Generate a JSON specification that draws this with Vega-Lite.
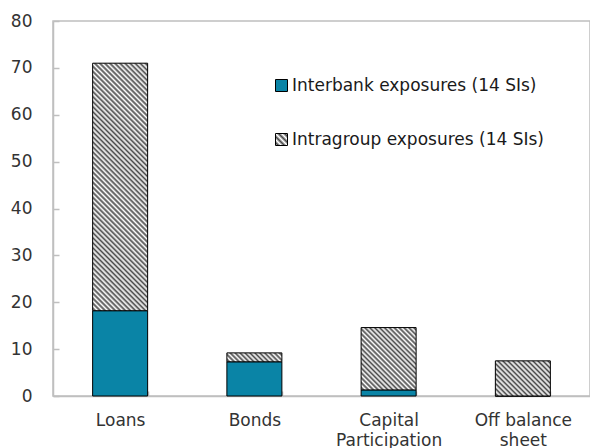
{
 "$schema": "https://vega.github.io/schema/vega-lite/v6.json",
 "width": 537,
 "height": 375,
 "autosize": {"type": "none"},
 "padding": {"left": 53, "top": 21, "right": 0, "bottom": 52},
 "background": "white",
 "config": {"view": {"stroke": "#bfbfbf", "strokeWidth": 1.5}, "font": "DejaVu Sans"},
 "data": {"values": [
  {"category": "Loans", "series": "Interbank exposures (14 SIs)", "value": 18.2},
  {"category": "Loans", "series": "Intragroup exposures (14 SIs)", "value": 52.8},
  {"category": "Bonds", "series": "Interbank exposures (14 SIs)", "value": 7.3},
  {"category": "Bonds", "series": "Intragroup exposures (14 SIs)", "value": 1.9},
  {"category": "Capital Participation", "series": "Interbank exposures (14 SIs)", "value": 1.3},
  {"category": "Capital Participation", "series": "Intragroup exposures (14 SIs)", "value": 13.3},
  {"category": "Off balance sheet", "series": "Interbank exposures (14 SIs)", "value": 0},
  {"category": "Off balance sheet", "series": "Intragroup exposures (14 SIs)", "value": 7.5}
 ]},
 "mark": {"type": "bar", "stroke": "#000", "strokeWidth": 1},
 "encoding": {
  "x": {
   "field": "category", "type": "nominal",
   "sort": ["Loans", "Bonds", "Capital Participation", "Off balance sheet"],
   "scale": {"paddingInner": 0.5903, "paddingOuter": 0.2952},
   "axis": {
    "title": null, "labelAngle": 0, "domainColor": "#bfbfbf", "domainWidth": 1.5,
    "tickColor": "#bfbfbf", "tickWidth": 1.5, "tickSize": -5, "tickBand": "extent",
    "labelFont": "DejaVu Sans", "labelFontSize": 17, "labelColor": "#333", "labelPadding": 21,
    "labelLineHeight": 20,
    "labelExpr": "datum.value === 'Capital Participation' ? ['Capital', 'Participation'] : datum.value === 'Off balance sheet' ? ['Off balance', 'sheet'] : datum.value"
   }
  },
  "y": {
   "field": "value", "type": "quantitative", "stack": "zero",
   "scale": {"domain": [0, 80], "nice": false},
   "axis": {
    "title": null, "grid": false, "values": [0, 10, 20, 30, 40, 50, 60, 70, 80],
    "domainColor": "#bfbfbf", "domainWidth": 1.5, "tickColor": "#bfbfbf", "tickWidth": 1.5,
    "tickSize": -6, "labelPadding": 27, "labelFont": "DejaVu Sans", "labelFontSize": 17, "labelColor": "#333"
   }
  },
  "order": {"field": "series", "sort": "ascending"},
  "fill": {
   "field": "series", "type": "nominal",
   "scale": {"domain": ["Interbank exposures (14 SIs)", "Intragroup exposures (14 SIs)"], "range": ["#0a84a6", {"expr": "{gradient: 'linear', x1: 0, y1: 1, x2: 1, y2: 0, stops: [{offset: 0, color: '#fff'}, {offset: 0.125, color: '#4a4a4a'}, {offset: 0.25, color: '#fff'}, {offset: 0.375, color: '#4a4a4a'}, {offset: 0.5, color: '#fff'}, {offset: 0.625, color: '#4a4a4a'}, {offset: 0.75, color: '#fff'}, {offset: 0.875, color: '#4a4a4a'}, {offset: 1, color: '#fff'}]}"}]},
   "legend": {
    "title": null, "orient": "none", "legendX": 220, "legendY": 56, "direction": "vertical",
    "symbolType": "square", "symbolSize": 144, "symbolStrokeColor": "#000", "symbolStrokeWidth": 1,
    "symbolOpacity": 1,
    "labelFont": "DejaVu Sans", "labelFontSize": 17, "labelColor": "#1a1a1a", "labelOffset": 2,
    "rowPadding": 36, "labelLimit": 400,
    "encode": {"symbols": {"update": {
     "stroke": {"value": "#000"},
     "strokeWidth": {"value": 1}
    }}}
   },
   "condition": [
    {"test": "datum.series === 'Intragroup exposures (14 SIs)' && datum.category === 'Loans'", "value": {"gradient": "linear", "x1": 0, "y1": 1, "x2": 0.2588, "y2": -0.1647, "stops": [
     {"offset": 0, "color": "#fff"}, {"offset": 0.0083, "color": "#4a4a4a"}, {"offset": 0.0167, "color": "#fff"}, {"offset": 0.025, "color": "#4a4a4a"}, {"offset": 0.0333, "color": "#fff"}, {"offset": 0.0417, "color": "#4a4a4a"}, {"offset": 0.05, "color": "#fff"}, {"offset": 0.0583, "color": "#4a4a4a"}, {"offset": 0.0667, "color": "#fff"}, {"offset": 0.075, "color": "#4a4a4a"}, {"offset": 0.0833, "color": "#fff"}, {"offset": 0.0917, "color": "#4a4a4a"},
     {"offset": 0.1, "color": "#fff"}, {"offset": 0.1083, "color": "#4a4a4a"}, {"offset": 0.1167, "color": "#fff"}, {"offset": 0.125, "color": "#4a4a4a"}, {"offset": 0.1333, "color": "#fff"}, {"offset": 0.1417, "color": "#4a4a4a"}, {"offset": 0.15, "color": "#fff"}, {"offset": 0.1583, "color": "#4a4a4a"}, {"offset": 0.1667, "color": "#fff"}, {"offset": 0.175, "color": "#4a4a4a"}, {"offset": 0.1833, "color": "#fff"}, {"offset": 0.1917, "color": "#4a4a4a"},
     {"offset": 0.2, "color": "#fff"}, {"offset": 0.2083, "color": "#4a4a4a"}, {"offset": 0.2167, "color": "#fff"}, {"offset": 0.225, "color": "#4a4a4a"}, {"offset": 0.2333, "color": "#fff"}, {"offset": 0.2417, "color": "#4a4a4a"}, {"offset": 0.25, "color": "#fff"}, {"offset": 0.2583, "color": "#4a4a4a"}, {"offset": 0.2667, "color": "#fff"}, {"offset": 0.275, "color": "#4a4a4a"}, {"offset": 0.2833, "color": "#fff"}, {"offset": 0.2917, "color": "#4a4a4a"},
     {"offset": 0.3, "color": "#fff"}, {"offset": 0.3083, "color": "#4a4a4a"}, {"offset": 0.3167, "color": "#fff"}, {"offset": 0.325, "color": "#4a4a4a"}, {"offset": 0.3333, "color": "#fff"}, {"offset": 0.3417, "color": "#4a4a4a"}, {"offset": 0.35, "color": "#fff"}, {"offset": 0.3583, "color": "#4a4a4a"}, {"offset": 0.3667, "color": "#fff"}, {"offset": 0.375, "color": "#4a4a4a"}, {"offset": 0.3833, "color": "#fff"}, {"offset": 0.3917, "color": "#4a4a4a"},
     {"offset": 0.4, "color": "#fff"}, {"offset": 0.4083, "color": "#4a4a4a"}, {"offset": 0.4167, "color": "#fff"}, {"offset": 0.425, "color": "#4a4a4a"}, {"offset": 0.4333, "color": "#fff"}, {"offset": 0.4417, "color": "#4a4a4a"}, {"offset": 0.45, "color": "#fff"}, {"offset": 0.4583, "color": "#4a4a4a"}, {"offset": 0.4667, "color": "#fff"}, {"offset": 0.475, "color": "#4a4a4a"}, {"offset": 0.4833, "color": "#fff"}, {"offset": 0.4917, "color": "#4a4a4a"},
     {"offset": 0.5, "color": "#fff"}, {"offset": 0.5083, "color": "#4a4a4a"}, {"offset": 0.5167, "color": "#fff"}, {"offset": 0.525, "color": "#4a4a4a"}, {"offset": 0.5333, "color": "#fff"}, {"offset": 0.5417, "color": "#4a4a4a"}, {"offset": 0.55, "color": "#fff"}, {"offset": 0.5583, "color": "#4a4a4a"}, {"offset": 0.5667, "color": "#fff"}, {"offset": 0.575, "color": "#4a4a4a"}, {"offset": 0.5833, "color": "#fff"}, {"offset": 0.5917, "color": "#4a4a4a"},
     {"offset": 0.6, "color": "#fff"}, {"offset": 0.6083, "color": "#4a4a4a"}, {"offset": 0.6167, "color": "#fff"}, {"offset": 0.625, "color": "#4a4a4a"}, {"offset": 0.6333, "color": "#fff"}, {"offset": 0.6417, "color": "#4a4a4a"}, {"offset": 0.65, "color": "#fff"}, {"offset": 0.6583, "color": "#4a4a4a"}, {"offset": 0.6667, "color": "#fff"}, {"offset": 0.675, "color": "#4a4a4a"}, {"offset": 0.6833, "color": "#fff"}, {"offset": 0.6917, "color": "#4a4a4a"},
     {"offset": 0.7, "color": "#fff"}, {"offset": 0.7083, "color": "#4a4a4a"}, {"offset": 0.7167, "color": "#fff"}, {"offset": 0.725, "color": "#4a4a4a"}, {"offset": 0.7333, "color": "#fff"}, {"offset": 0.7417, "color": "#4a4a4a"}, {"offset": 0.75, "color": "#fff"}, {"offset": 0.7583, "color": "#4a4a4a"}, {"offset": 0.7667, "color": "#fff"}, {"offset": 0.775, "color": "#4a4a4a"}, {"offset": 0.7833, "color": "#fff"}, {"offset": 0.7917, "color": "#4a4a4a"},
     {"offset": 0.8, "color": "#fff"}, {"offset": 0.8083, "color": "#4a4a4a"}, {"offset": 0.8167, "color": "#fff"}, {"offset": 0.825, "color": "#4a4a4a"}, {"offset": 0.8333, "color": "#fff"}, {"offset": 0.8417, "color": "#4a4a4a"}, {"offset": 0.85, "color": "#fff"}, {"offset": 0.8583, "color": "#4a4a4a"}, {"offset": 0.8667, "color": "#fff"}, {"offset": 0.875, "color": "#4a4a4a"}, {"offset": 0.8833, "color": "#fff"}, {"offset": 0.8917, "color": "#4a4a4a"},
     {"offset": 0.9, "color": "#fff"}, {"offset": 0.9083, "color": "#4a4a4a"}, {"offset": 0.9167, "color": "#fff"}, {"offset": 0.925, "color": "#4a4a4a"}, {"offset": 0.9333, "color": "#fff"}, {"offset": 0.9417, "color": "#4a4a4a"}, {"offset": 0.95, "color": "#fff"}, {"offset": 0.9583, "color": "#4a4a4a"}, {"offset": 0.9667, "color": "#fff"}, {"offset": 0.975, "color": "#4a4a4a"}, {"offset": 0.9833, "color": "#fff"}, {"offset": 0.9917, "color": "#4a4a4a"},
     {"offset": 1, "color": "#fff"}]}},
    {"test": "datum.series === 'Intragroup exposures (14 SIs)' && datum.category === 'Bonds'", "value": {"gradient": "linear", "x1": 0, "y1": 1, "x2": 1.1322, "y2": 0.8168, "stops": [
     {"offset": 0, "color": "#fff"}, {"offset": 0.0385, "color": "#4a4a4a"}, {"offset": 0.0769, "color": "#fff"}, {"offset": 0.1154, "color": "#4a4a4a"}, {"offset": 0.1538, "color": "#fff"}, {"offset": 0.1923, "color": "#4a4a4a"}, {"offset": 0.2308, "color": "#fff"}, {"offset": 0.2692, "color": "#4a4a4a"}, {"offset": 0.3077, "color": "#fff"}, {"offset": 0.3462, "color": "#4a4a4a"}, {"offset": 0.3846, "color": "#fff"}, {"offset": 0.4231, "color": "#4a4a4a"}, {"offset": 0.4615, "color": "#fff"}, {"offset": 0.5, "color": "#4a4a4a"}, {"offset": 0.5385, "color": "#fff"}, {"offset": 0.5769, "color": "#4a4a4a"}, {"offset": 0.6154, "color": "#fff"}, {"offset": 0.6538, "color": "#4a4a4a"}, {"offset": 0.6923, "color": "#fff"}, {"offset": 0.7308, "color": "#4a4a4a"}, {"offset": 0.7692, "color": "#fff"}, {"offset": 0.8077, "color": "#4a4a4a"}, {"offset": 0.8462, "color": "#fff"}, {"offset": 0.8846, "color": "#4a4a4a"}, {"offset": 0.9231, "color": "#fff"}, {"offset": 0.9615, "color": "#4a4a4a"}, {"offset": 1, "color": "#fff"}]}},
    {"test": "datum.series === 'Intragroup exposures (14 SIs)' && datum.category === 'Capital Participation'", "value": {"gradient": "linear", "x1": 0, "y1": 1, "x2": 0.9342, "y2": -0.0582, "stops": [
     {"offset": 0, "color": "#fff"}, {"offset": 0.0208, "color": "#4a4a4a"}, {"offset": 0.0417, "color": "#fff"}, {"offset": 0.0625, "color": "#4a4a4a"}, {"offset": 0.0833, "color": "#fff"}, {"offset": 0.1042, "color": "#4a4a4a"}, {"offset": 0.125, "color": "#fff"}, {"offset": 0.1458, "color": "#4a4a4a"}, {"offset": 0.1667, "color": "#fff"}, {"offset": 0.1875, "color": "#4a4a4a"}, {"offset": 0.2083, "color": "#fff"}, {"offset": 0.2292, "color": "#4a4a4a"},
     {"offset": 0.25, "color": "#fff"}, {"offset": 0.2708, "color": "#4a4a4a"}, {"offset": 0.2917, "color": "#fff"}, {"offset": 0.3125, "color": "#4a4a4a"}, {"offset": 0.3333, "color": "#fff"}, {"offset": 0.3542, "color": "#4a4a4a"}, {"offset": 0.375, "color": "#fff"}, {"offset": 0.3958, "color": "#4a4a4a"}, {"offset": 0.4167, "color": "#fff"}, {"offset": 0.4375, "color": "#4a4a4a"}, {"offset": 0.4583, "color": "#fff"}, {"offset": 0.4792, "color": "#4a4a4a"},
     {"offset": 0.5, "color": "#fff"}, {"offset": 0.5208, "color": "#4a4a4a"}, {"offset": 0.5417, "color": "#fff"}, {"offset": 0.5625, "color": "#4a4a4a"}, {"offset": 0.5833, "color": "#fff"}, {"offset": 0.6042, "color": "#4a4a4a"}, {"offset": 0.625, "color": "#fff"}, {"offset": 0.6458, "color": "#4a4a4a"}, {"offset": 0.6667, "color": "#fff"}, {"offset": 0.6875, "color": "#4a4a4a"}, {"offset": 0.7083, "color": "#fff"}, {"offset": 0.7292, "color": "#4a4a4a"},
     {"offset": 0.75, "color": "#fff"}, {"offset": 0.7708, "color": "#4a4a4a"}, {"offset": 0.7917, "color": "#fff"}, {"offset": 0.8125, "color": "#4a4a4a"}, {"offset": 0.8333, "color": "#fff"}, {"offset": 0.8542, "color": "#4a4a4a"}, {"offset": 0.875, "color": "#fff"}, {"offset": 0.8958, "color": "#4a4a4a"}, {"offset": 0.9167, "color": "#fff"}, {"offset": 0.9375, "color": "#4a4a4a"}, {"offset": 0.9583, "color": "#fff"}, {"offset": 0.9792, "color": "#4a4a4a"},
     {"offset": 1, "color": "#fff"}]}},
    {"test": "datum.series === 'Intragroup exposures (14 SIs)' && datum.category === 'Off balance sheet'", "value": {"gradient": "linear", "x1": 0, "y1": 1, "x2": 1.1635, "y2": 0.2554, "stops": [
     {"offset": 0, "color": "#fff"}, {"offset": 0.0278, "color": "#4a4a4a"}, {"offset": 0.0556, "color": "#fff"}, {"offset": 0.0833, "color": "#4a4a4a"}, {"offset": 0.1111, "color": "#fff"}, {"offset": 0.1389, "color": "#4a4a4a"}, {"offset": 0.1667, "color": "#fff"}, {"offset": 0.1944, "color": "#4a4a4a"}, {"offset": 0.2222, "color": "#fff"}, {"offset": 0.25, "color": "#4a4a4a"}, {"offset": 0.2778, "color": "#fff"}, {"offset": 0.3056, "color": "#4a4a4a"},
     {"offset": 0.3333, "color": "#fff"}, {"offset": 0.3611, "color": "#4a4a4a"}, {"offset": 0.3889, "color": "#fff"}, {"offset": 0.4167, "color": "#4a4a4a"}, {"offset": 0.4444, "color": "#fff"}, {"offset": 0.4722, "color": "#4a4a4a"}, {"offset": 0.5, "color": "#fff"}, {"offset": 0.5278, "color": "#4a4a4a"}, {"offset": 0.5556, "color": "#fff"}, {"offset": 0.5833, "color": "#4a4a4a"}, {"offset": 0.6111, "color": "#fff"}, {"offset": 0.6389, "color": "#4a4a4a"},
     {"offset": 0.6667, "color": "#fff"}, {"offset": 0.6944, "color": "#4a4a4a"}, {"offset": 0.7222, "color": "#fff"}, {"offset": 0.75, "color": "#4a4a4a"}, {"offset": 0.7778, "color": "#fff"}, {"offset": 0.8056, "color": "#4a4a4a"}, {"offset": 0.8333, "color": "#fff"}, {"offset": 0.8611, "color": "#4a4a4a"}, {"offset": 0.8889, "color": "#fff"}, {"offset": 0.9167, "color": "#4a4a4a"}, {"offset": 0.9444, "color": "#fff"}, {"offset": 0.9722, "color": "#4a4a4a"},
     {"offset": 1, "color": "#fff"}]}}
   ]
  }
 }
}
